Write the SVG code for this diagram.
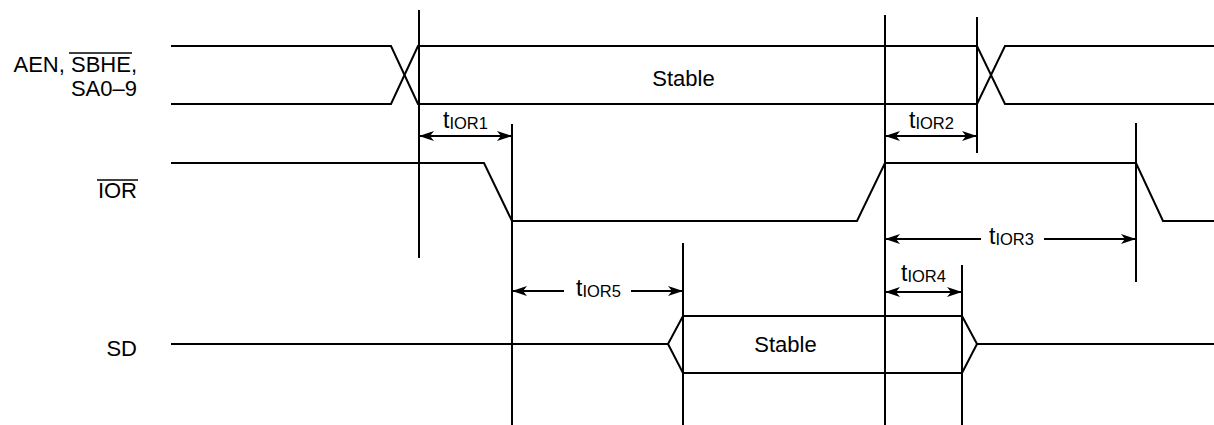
<svg xmlns="http://www.w3.org/2000/svg" width="1214" height="425" viewBox="0 0 1214 425">
<style>
.w{fill:none;stroke:#000;stroke-width:2;stroke-linejoin:miter}
.v{fill:none;stroke:#000;stroke-width:2}
.d{fill:none;stroke:#000;stroke-width:2;marker-end:url(#ah)}
.dd{fill:none;stroke:#000;stroke-width:2;marker-start:url(#ah);marker-end:url(#ah)}
text{font-family:"Liberation Sans",Arial,sans-serif;fill:#000}
.lb{font-size:22px}
.t{font-size:23px}
.s{font-size:16.5px}
.ob{stroke:#000;stroke-width:1.5}
</style>
<defs>
<marker id="ah" viewBox="-16 -6 17 12" refX="0" refY="0" markerWidth="17" markerHeight="12" markerUnits="userSpaceOnUse" orient="auto-start-reverse">
<path d="M0,0 L-15,-5 L-11,0 L-15,5 Z" fill="#000"/>
</marker>
</defs>
<g id="labels">
<text class="lb" x="137" y="72" text-anchor="end">AEN, SBHE,</text>
<line class="ob" x1="69" y1="53" x2="132" y2="53"/>
<text class="lb" x="137" y="96" text-anchor="end">SA0–9</text>
<text class="lb" x="137" y="198" text-anchor="end">IOR</text>
<line class="ob" x1="97" y1="180" x2="138" y2="180"/>
<text class="lb" x="137" y="356" text-anchor="end">SD</text>
</g>
<g id="sig-addr">
<polyline class="w" points="171,46 391,46 418,104 977,104 1005,46 1214,46"/>
<polyline class="w" points="171,104 391,104 418,46 977,46 1005,104 1214,104"/>
<text class="lb" x="683.5" y="86" text-anchor="middle">Stable</text>
</g>
<g id="sig-ior">
<polyline class="w" points="171,163 484,163 512,221 857,221 885,163 1136,163 1163,221 1214,221"/>
</g>
<g id="sig-sd">
<polyline class="w" points="171,344 668,344 683,316 962,316 977,344 1214,344"/>
<polyline class="w" points="668,344 683,373 962,373 977,344"/>
<text class="lb" x="785.5" y="352" text-anchor="middle">Stable</text>
</g>
<g id="connectors">
<line class="v" x1="419" y1="10" x2="419" y2="258"/>
<line class="v" x1="512" y1="124" x2="512" y2="425"/>
<line class="v" x1="683" y1="243" x2="683" y2="425"/>
<line class="v" x1="885" y1="15" x2="885" y2="425"/>
<line class="v" x1="962" y1="265" x2="962" y2="425"/>
<line class="v" x1="977" y1="17" x2="977" y2="153"/>
<line class="v" x1="1136" y1="123" x2="1136" y2="282"/>
<line class="dd" x1="419" y1="136" x2="512" y2="136"/>
<line class="dd" x1="885" y1="136" x2="977" y2="136"/>
<line class="d" x1="981" y1="239" x2="885" y2="239"/>
<line class="d" x1="1044" y1="239" x2="1136" y2="239"/>
<line class="dd" x1="885" y1="292" x2="962" y2="292"/>
<line class="d" x1="564" y1="291" x2="512" y2="291"/>
<line class="d" x1="631" y1="291" x2="683" y2="291"/>
</g>
<g id="timing-labels">
<text x="443" y="128"><tspan class="t">t</tspan><tspan class="s" dy="1">IOR1</tspan></text>
<text x="909" y="128"><tspan class="t">t</tspan><tspan class="s" dy="1">IOR2</tspan></text>
<text x="989" y="244"><tspan class="t">t</tspan><tspan class="s" dy="1">IOR3</tspan></text>
<text x="901" y="281"><tspan class="t">t</tspan><tspan class="s" dy="1">IOR4</tspan></text>
<text x="576" y="296"><tspan class="t">t</tspan><tspan class="s" dy="1">IOR5</tspan></text>
</g>
</svg>
